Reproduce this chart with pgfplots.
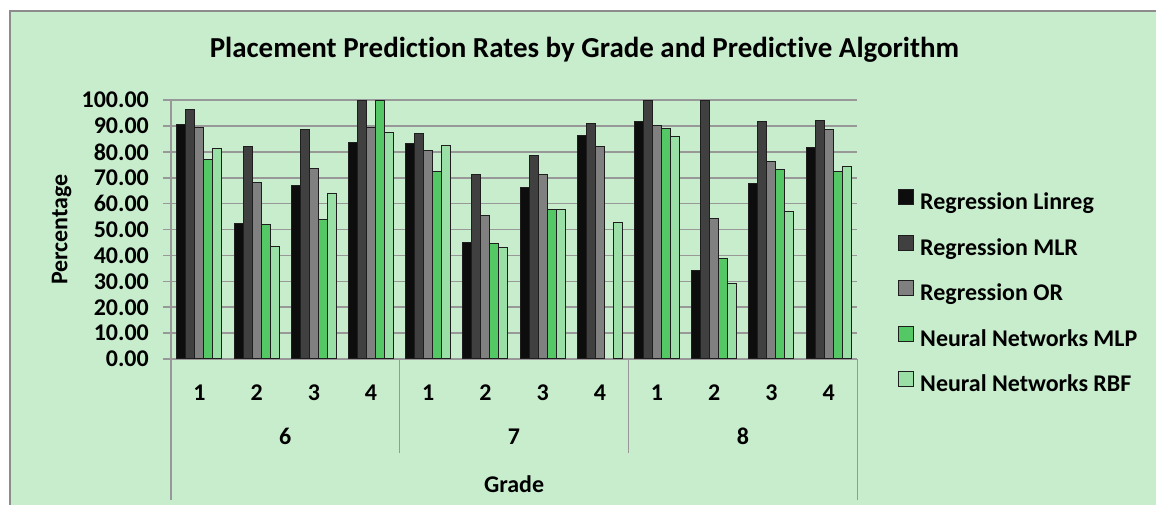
\documentclass[border=0pt]{standalone}
\usepackage{fontspec}
\setmainfont{Carlito}[Ligatures=NoCommon]
\usepackage{pgfplots}
\pgfplotsset{compat=1.18}
\usetikzlibrary{calc}
\definecolor{bg}{RGB}{200,237,205}
\definecolor{framec}{RGB}{140,140,140}
\definecolor{gridc}{RGB}{152,152,152}
\definecolor{edgec}{RGB}{30,30,30}
\definecolor{cA}{RGB}{13,13,13}
\definecolor{cB}{RGB}{64,64,64}
\definecolor{cC}{RGB}{128,128,128}
\definecolor{cD}{RGB}{84,200,100}
\definecolor{cE}{RGB}{154,224,166}
\pgfplotsset{sqlegend/.style={legend image code/.code={\draw[##1] (0pt,-0.5pt) rectangle (7.5pt,7pt);}}}
\newcommand{\lf}{\fontsize{12}{14}\selectfont\bfseries}
\begin{document}
\begin{tikzpicture}
\fill[white] (0,0) rectangle (578.5pt,252.5pt);
\fill[bg] (5pt,0) rectangle (578.5pt,247pt);
\draw[framec, line width=1pt] (5pt,0) -- (5pt,247pt) -- (578.5pt,247pt);
\node[font=\fontsize{14.5}{16}\selectfont\bfseries] at (292.5pt,227.5pt) {Placement Prediction Rates by Grade and Predictive Algorithm};
\begin{axis}[
 at={(85.5pt,72.85pt)}, anchor=south west,
 scale only axis, width=343.5pt, height=129.5pt,
 xmin=-0.5, xmax=11.5, ymin=0, ymax=100,
 ybar=0pt, bar width=4.5pt,
 clip=false,
 axis x line*=bottom, axis y line*=left,
 axis line style={draw=gridc, line width=0.75pt, -},
 ymajorgrids, grid style={draw=gridc, line width=0.75pt},
 ytick={0,10,...,100},
 tick align=outside, major tick length=4pt,
 ytick style={draw=gridc, line width=0.75pt},
 xtick={0,...,11}, xticklabels={1,2,3,4,1,2,3,4,1,2,3,4},
 xtick style={draw=none},
 tick label style={font=\lf},
 yticklabel style={xshift=-3.5pt, /pgf/number format/.cd, fixed, zerofill, precision=2, assume math mode=true},
 xticklabel style={anchor=center, yshift=-13pt},
 legend style={at={(1.0597,0.655)}, anchor=north west, draw=none, fill=none, font=\lf,
   inner sep=0pt, outer sep=0pt, row sep=10pt, column sep=3pt,
   nodes={inner sep=0pt, text height=8.5pt, text depth=2.5pt}},
 legend cell align=left,
]
\addplot[fill=cA, draw=edgec, line width=0.5pt, sqlegend] coordinates {(0,90.7) (1,52.5) (2,66.9) (3,83.8) (4,83.2) (5,45.0) (6,66.4) (7,86.2) (8,91.6) (9,34.2) (10,67.8) (11,81.7)};
\addplot[fill=cB, draw=edgec, line width=0.5pt, sqlegend] coordinates {(0,96.5) (1,82.1) (2,88.5) (3,100) (4,87.1) (5,71.3) (6,78.8) (7,91.1) (8,100) (9,100) (10,91.6) (11,92.0)};
\addplot[fill=cC, draw=edgec, line width=0.5pt, sqlegend] coordinates {(0,89.6) (1,68.3) (2,73.7) (3,89.6) (4,80.7) (5,55.4) (6,71.3) (7,82.1) (8,90.1) (9,54.4) (10,76.3) (11,88.6)};
\addplot[fill=cD, draw=edgec, line width=0.5pt, sqlegend] coordinates {(0,77.2) (1,51.9) (2,53.9) (3,100) (4,72.3) (5,44.5) (6,57.9) (8,89.0) (9,39.0) (10,73.2) (11,72.3)};
\addplot[fill=cE, draw=edgec, line width=0.5pt, sqlegend] coordinates {(0,81.2) (1,43.6) (2,63.8) (3,87.6) (4,82.6) (5,43.1) (6,57.9) (7,52.9) (8,86.1) (9,29.2) (10,56.9) (11,74.2)};
\legend{Regression Linreg, Regression MLR, Regression OR, Neural Networks MLP, Neural Networks RBF}
\draw[gridc, line width=0.75pt] (axis cs:-0.5,0) -- ++(0pt,-70.5pt);
\draw[gridc, line width=0.75pt] (axis cs:11.5,0) -- ++(0pt,-70.5pt);
\draw[gridc, line width=0.75pt] (axis cs:3.5,0) -- ++(0pt,-47pt);
\draw[gridc, line width=0.75pt] (axis cs:7.5,0) -- ++(0pt,-47pt);
\node[font=\lf] at ($(axis cs:1.5,0)+(0pt,-38.9pt)$) {6};
\node[font=\lf] at ($(axis cs:5.5,0)+(0pt,-38.9pt)$) {7};
\node[font=\lf] at ($(axis cs:9.5,0)+(0pt,-38.9pt)$) {8};
\node[font=\lf] at ($(rel axis cs:0.5,0)+(0pt,-62.5pt)$) {Grade};
\node[font=\lf, rotate=90] at ($(rel axis cs:0,0.5)+(-54.65pt,0pt)$) {Percentage};
\end{axis}
\end{tikzpicture}
\end{document}
